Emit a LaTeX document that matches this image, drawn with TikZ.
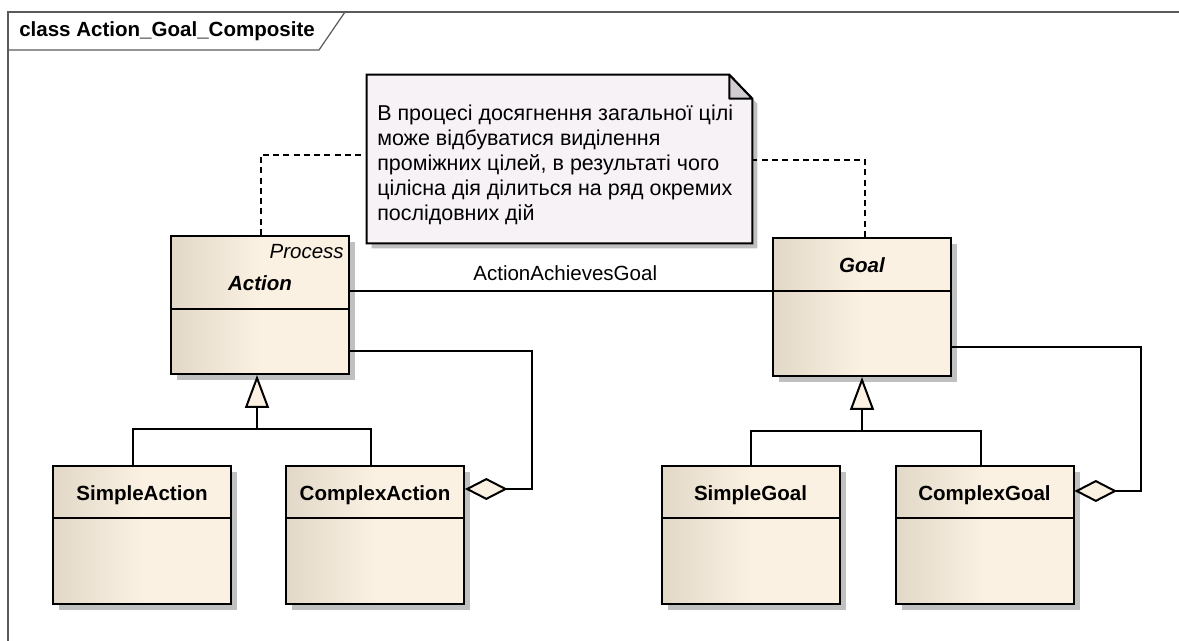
\documentclass[tikz,border=0pt]{standalone}
\usepackage{fontspec}
\setmainfont{Liberation Sans}
\usetikzlibrary{arrows.meta,calc,shadows}
\definecolor{clight}{RGB}{251,241,226}
\definecolor{cdark}{RGB}{226,216,200}
\definecolor{notefill}{RGB}{247,242,246}
\definecolor{foldgray}{RGB}{208,204,208}
\definecolor{shadowgray}{RGB}{192,192,192}
\definecolor{framegray}{RGB}{90,90,90}
\tikzset{
  txt/.style={font=\fontsize{15.4}{18.75}\selectfont, inner sep=0pt},
  classbox/.style={draw, line width=1.5pt, inner sep=0pt,
    minimum width=133.5pt, minimum height=103.5pt,
    left color=cdark, right color=clight, middle color=clight,
    drop shadow={shadow xshift=4.5pt, shadow yshift=-4.5pt, fill=shadowgray, opacity=1}},
  boxline/.style={line width=1.5pt},
  conn/.style={line width=1.5pt},
  notelink/.style={line width=1.5pt, dash pattern=on 4.5pt off 3.2pt},
  framepen/.style={line width=0.9pt, draw=framegray},
  gentip/.style={-{Triangle[length=24.75pt,width=18pt,fill=clight]}},
  aggtip/.style={{Diamond[length=32pt,width=16.5pt,fill=clight]}-},
}
\begin{document}
\begin{tikzpicture}[x=0.75pt,y=-0.75pt]
\useasboundingbox (0,0) rectangle (1179,641);
% frame
\draw[framepen] (8,641) -- (8,12) -- (1179,12);
\draw[framepen] (8,50) -- (319,50) -- (345,12);
\node[txt, anchor=base west, font=\fontsize{15.4}{18.75}\selectfont\bfseries] (frametitle) at (19,37) {class Action\_Goal\_Composite};

% note
\node[minimum width=288.75pt, minimum height=126pt, inner sep=0pt] (note) at (559.5,159) {};
\path[draw, line width=1.5pt, fill=notefill,
  drop shadow={shadow xshift=3.75pt, shadow yshift=-3.75pt, fill=shadowgray, opacity=1}]
  (note.north west) -- ($(note.north east)+(-23,0)$) -- ($(note.north east)+(0,24)$)
  -- (note.south east) -- (note.south west) -- cycle;
\draw[line width=1.5pt, fill=foldgray, line join=round]
  ($(note.north east)+(-23,0)$) -- ($(note.north east)+(-23,24)$) -- ($(note.north east)+(0,24)$) -- cycle;
\node[txt, anchor=base west, align=left, font=\fontsize{16.1}{18.75}\selectfont] (notetxt) at (377,221)
  {В процесі досягнення загальної цілі\\може відбуватися виділення\\проміжних цілей, в результаті чого\\цілісна дія ділиться на ряд окремих\\послідовних дій};

% classes
\node[classbox] (act) at (260,305) {};
\node[classbox] (goal) at (862,307) {};
\node[classbox] (sact) at (142,535) {};
\node[classbox] (cact) at (375,535) {};
\node[classbox] (sgoal) at (750.5,535) {};
\node[classbox] (cgoal) at (984.5,535) {};

\draw[boxline] ($(act.north west)+(0,74)$) -- ($(act.north east)+(0,74)$);
\draw[boxline] ($(goal.north west)+(0,54)$) -- ($(goal.north east)+(0,54)$);
\foreach \n in {sact,cact,sgoal,cgoal}
  \draw[boxline] ($(\n.north west)+(0,53)$) -- ($(\n.north east)+(0,53)$);

\node[txt, anchor=base east, font=\fontsize{15.4}{18.75}\selectfont\itshape] (actst) at ($(act.north east)+(-6,24)$) {Process};
\node[txt, anchor=base, font=\fontsize{15.4}{18.75}\selectfont\bfseries\itshape] (actt) at ($(act.north)+(0,55.5)$) {Action};
\node[txt, anchor=base, font=\fontsize{15.4}{18.75}\selectfont\bfseries\itshape] (goalt) at ($(goal.north)+(0,36)$) {Goal};
\node[txt, anchor=base, font=\fontsize{15.4}{18.75}\selectfont\bfseries] (sactt) at ($(sact.north)+(0,36)$) {SimpleAction};
\node[txt, anchor=base, font=\fontsize{15.4}{18.75}\selectfont\bfseries] (cactt) at ($(cact.north)+(0,36)$) {ComplexAction};
\node[txt, anchor=base, font=\fontsize{15.4}{18.75}\selectfont\bfseries] (sgoalt) at ($(sgoal.north)+(0,36)$) {SimpleGoal};
\node[txt, anchor=base, font=\fontsize{15.4}{18.75}\selectfont\bfseries] (cgoalt) at ($(cgoal.north)+(0,36)$) {ComplexGoal};

% note links
\draw[notelink] ($(act.north)+(1,0)$) |- ($(note.north west)+(0,80)$);
\draw[notelink] ($(goal.north)+(3,0)$) |- ($(note.north east)+(0,85)$);

% association
\draw[conn] ($(act.north east)+(0,56)$) -- node[txt, pos=0.51, anchor=base, yshift=7.5pt] (assoc) {ActionAchievesGoal} ($(goal.north west)+(0,54)$);

% generalization Action
\coordinate (ajoin) at ($(act.south)+(-3,54)$);
\draw[conn] ($(sact.north)+(-9,0)$) |- (ajoin);
\draw[conn] ($(cact.north)+(-4,0)$) |- (ajoin);
\draw[conn, gentip] (ajoin) -- ($(act.south)+(-3,0)$);

% generalization Goal
\coordinate (gjoin) at ($(goal.south)+(0,54)$);
\draw[conn] ($(sgoal.north)+(0,0)$) |- (gjoin);
\draw[conn] ($(cgoal.north)+(-3.5,0)$) |- (gjoin);
\draw[conn, gentip] (gjoin) -- (goal.south);

% aggregation
\draw[conn, aggtip] ($(cact.north east)+(0,24)$) -- ++(67,0) |- ($(act.north east)+(0,116)$);
\draw[conn, aggtip] ($(cgoal.north east)+(0,26)$) -- ++(66,0) |- ($(goal.north east)+(0,110)$);
\end{tikzpicture}
\end{document}
